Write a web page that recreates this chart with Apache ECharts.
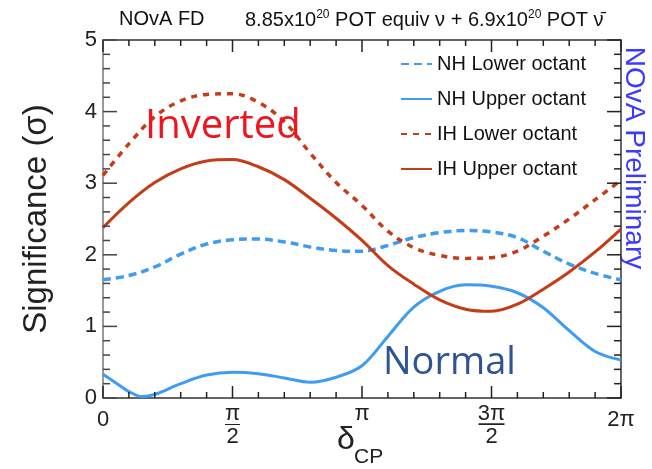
<!DOCTYPE html>
<html>
<head>
<meta charset="utf-8">
<script src="https://cdn.jsdelivr.net/npm/echarts@6.0.0/dist/echarts.min.js"></script>
<style>
  html, body { margin: 0; padding: 0; background: #fff; }
  #chart { width: 652px; height: 469px; }
</style>
</head>
<body>
<div id="chart"></div>
<script>
// delta_CP in units of pi
var deltaPi = [0, 0.1, 0.2, 0.3, 0.4, 0.5, 0.6, 0.7, 0.8, 0.9, 1.0,
               1.1, 1.2, 1.3, 1.4, 1.5, 1.6, 1.7, 1.8, 1.9, 2.0];
var nhLower = [1.65, 1.71, 1.83, 2.01, 2.15, 2.21, 2.22, 2.18, 2.11, 2.06, 2.05,
               2.13, 2.24, 2.31, 2.34, 2.32, 2.24, 2.05, 1.87, 1.74, 1.65];
var ihLower = [3.11, 3.55, 3.93, 4.15, 4.24, 4.25, 4.13, 3.86, 3.42, 3.01, 2.69,
               2.33, 2.10, 1.99, 1.95, 1.96, 2.05, 2.26, 2.50, 2.77, 3.04];
var ihUpper = [2.38, 2.73, 3.01, 3.20, 3.31, 3.33, 3.23, 3.05, 2.79, 2.51, 2.20,
               1.85, 1.59, 1.37, 1.24, 1.21, 1.31, 1.52, 1.76, 2.04, 2.36];
// NH upper octant has a dip near 0, so it gets a finer start
var nhUpperDelta = [0, 0.05, 0.1, 0.15, 0.2, 0.3, 0.4, 0.5, 0.6, 0.7, 0.8, 0.9, 1.0,
                    1.1, 1.2, 1.3, 1.4, 1.5, 1.6, 1.7, 1.8, 1.9, 2.0];
var nhUpper = [0.33, 0.21, 0.09, 0.02, 0.05, 0.20, 0.32, 0.36, 0.34, 0.28, 0.22, 0.29, 0.45,
               0.86, 1.27, 1.49, 1.58, 1.56, 1.47, 1.26, 0.94, 0.65, 0.53];

var seriesNames = ['NH Lower octant', 'NH Upper octant', 'IH Lower octant', 'IH Upper octant'];
var xTicks = [0, 0.5, 1, 1.5, 2];
var xTickLabels = ['{z|0}', '{n|π}\n{b|—}\n{d|2}', '{p|π}', '{n|3π}\n{bw|—}\n{d|2}', '{z|2π}'];
var yTicks = [0, 1, 2, 3, 4, 5];

var blue = '#3f9cf2';
var red = '#c43c18';
var tickFont = '"Liberation Sans Narrow", "Liberation Sans", Arial, sans-serif';
var textFont = '"Liberation Sans", Arial, sans-serif';

function pairs(xs, ys) {
  return xs.map(function (x, i) { return [x, ys[i]]; });
}

// ROOT style frame ticks, pointing inwards on all four sides
// item: [value, side (0 bottom, 1 top, 2 left, 3 right), length]
var frameTicks = [];
for (var i = 0; i <= 20; i++) {
  var xl = (i % 5 === 0) ? 12 : 6;
  frameTicks.push([i / 10, 0, xl], [i / 10, 1, xl]);
}
for (var j = 0; j <= 25; j++) {
  var yl = (j % 5 === 0) ? 14 : 7;
  frameTicks.push([j / 5, 2, yl], [j / 5, 3, yl]);
}

function renderTick(params, api) {
  var v = api.value(0), side = api.value(1), len = api.value(2);
  var lo = api.coord([0, 0]);
  var hi = api.coord([2, 5]);
  var shape;
  if (side === 0) {
    var xb = api.coord([v, 0])[0];
    shape = { x1: xb, y1: lo[1], x2: xb, y2: lo[1] - len };
  } else if (side === 1) {
    var xt = api.coord([v, 5])[0];
    shape = { x1: xt, y1: hi[1], x2: xt, y2: hi[1] + len };
  } else if (side === 2) {
    var yL = api.coord([0, v])[1];
    shape = { x1: lo[0], y1: yL, x2: lo[0] + len, y2: yL };
  } else {
    var yR = api.coord([2, v])[1];
    shape = { x1: hi[0], y1: yR, x2: hi[0] - len, y2: yR };
  }
  return { type: 'line', shape: shape, style: { stroke: side === 2 ? '#444' : '#222', lineWidth: 1.5 } };
}

function frameAxis(extra) {
  var base = {
    type: 'value',
    axisLine: { show: true, onZero: false, lineStyle: { color: '#333', width: 1.5 } },
    axisTick: { show: false },
    minorTick: { show: false },
    splitLine: { show: false },
    minorSplitLine: { show: false },
    axisLabel: { show: false }
  };
  return Object.assign(base, extra);
}

var myChart = echarts.init(document.getElementById('chart'));

var option = {
  backgroundColor: '#fff',
  animation: false,
  grid: { left: 103, right: 31, top: 40, bottom: 71, containLabel: false, outerBoundsMode: 'none' },
  legend: {
    data: seriesNames,
    orient: 'vertical',
    left: 400,
    top: 54,
    padding: 0,
    itemWidth: 31,
    itemHeight: 14,
    itemGap: 15,
    itemStyle: { opacity: 0 },
    textStyle: { fontSize: 20, fontFamily: textFont, color: '#111' }
  },
  xAxis: [
    frameAxis({
      min: 0, max: 2, interval: 0.5, position: 'bottom',
      axisLabel: {
        show: true, margin: 8, showMinLabel: true, showMaxLabel: true,
        color: '#222', fontFamily: tickFont, fontSize: 22,
        formatter: function (v) { return xTickLabels[xTicks.indexOf(v)]; },
        rich: {
          z: { fontSize: 22, fontFamily: tickFont, lineHeight: 28, color: '#222' },
          p: { fontSize: 22, fontFamily: tickFont, lineHeight: 16, color: '#222' },
          n: { fontSize: 22, fontFamily: tickFont, lineHeight: 16, color: '#222' },
          b: { fontSize: 15, fontFamily: textFont, lineHeight: 4, color: '#222' },
          bw: { fontSize: 26, fontFamily: textFont, lineHeight: 4, color: '#222' },
          d: { fontSize: 22, fontFamily: tickFont, lineHeight: 22, color: '#222' }
        }
      }
    }),
    frameAxis({ min: 0, max: 2, interval: 0.5, position: 'top' })
  ],
  yAxis: [
    frameAxis({
      min: 0, max: 5, interval: 1, position: 'left',
      axisLine: { show: true, onZero: false, lineStyle: { color: '#777', width: 1.5 } },
      axisLabel: {
        show: true, margin: 6, showMinLabel: true, showMaxLabel: true,
        color: '#222', fontFamily: tickFont, fontSize: 22,
        formatter: function (v) { return yTicks.indexOf(v) >= 0 ? String(v) : ''; }
      }
    }),
    frameAxis({ min: 0, max: 5, interval: 1, position: 'right' })
  ],
  series: [
    {
      name: seriesNames[0], type: 'line', data: pairs(deltaPi, nhLower),
      symbol: 'none', smooth: 0.35,
      itemStyle: { color: blue },
      lineStyle: { color: blue, width: 3.5, type: [8, 5] }
    },
    {
      name: seriesNames[1], type: 'line', data: pairs(nhUpperDelta, nhUpper),
      symbol: 'none', smooth: 0.35,
      itemStyle: { color: blue },
      lineStyle: { color: blue, width: 3 }
    },
    {
      name: seriesNames[2], type: 'line', data: pairs(deltaPi, ihLower),
      symbol: 'none', smooth: 0.35,
      itemStyle: { color: red },
      lineStyle: { color: red, width: 3.5, type: [6, 6] }
    },
    {
      name: seriesNames[3], type: 'line', data: pairs(deltaPi, ihUpper),
      symbol: 'none', smooth: 0.35,
      itemStyle: { color: red },
      lineStyle: { color: red, width: 3 }
    },
    {
      type: 'custom', data: frameTicks, renderItem: renderTick,
      silent: true, clip: false, z: 5
    }
  ],
  graphic: [
    {
      type: 'text', left: 119, top: 9,
      style: { text: 'NOvA FD', fontSize: 20, fontFamily: textFont, fill: '#111' }
    },
    {
      type: 'text', left: 245, top: 9,
      style: {
        text: '8.85x10{s|20} POT equiv ν + 6.9x10{s|20} POT ν\u0304',
        fontSize: 20, fontFamily: textFont, lineHeight: 22, fill: '#111',
        rich: { s: { fontSize: 12, fontFamily: textFont, lineHeight: 12, verticalAlign: 'top', fill: '#111' } }
      }
    },
    {
      type: 'text', x: 37, y: 219, rotation: Math.PI / 2,
      style: {
        text: 'Significance (σ)', fontSize: 33, fontFamily: textFont, fill: '#222',
        align: 'center', verticalAlign: 'middle'
      }
    },
    {
      type: 'text', left: 337, top: 424,
      style: { text: 'δ', fontSize: 32, fontFamily: textFont, fill: '#222' }
    },
    {
      type: 'text', left: 354, top: 447,
      style: { text: 'CP', fontSize: 21, fontFamily: textFont, fill: '#222' }
    },
    {
      type: 'text', left: 145, top: 107, z: 10,
      style: { text: 'Inverted', fontSize: 40, fontFamily: '"Open Sans", sans-serif', fill: '#f0141e' }
    },
    {
      type: 'text', left: 383, top: 344, z: 10,
      style: { text: 'Normal', fontSize: 38, fontFamily: '"Open Sans", sans-serif', fill: '#2f5496' }
    },
    {
      type: 'text', x: 634, y: 158, rotation: -Math.PI / 2,
      style: {
        text: 'NOvA Preliminary', fontSize: 28, fontFamily: textFont, fill: '#3b3bff',
        align: 'center', verticalAlign: 'middle'
      }
    }
  ]
};

myChart.setOption(option);
</script>
</body>
</html>
